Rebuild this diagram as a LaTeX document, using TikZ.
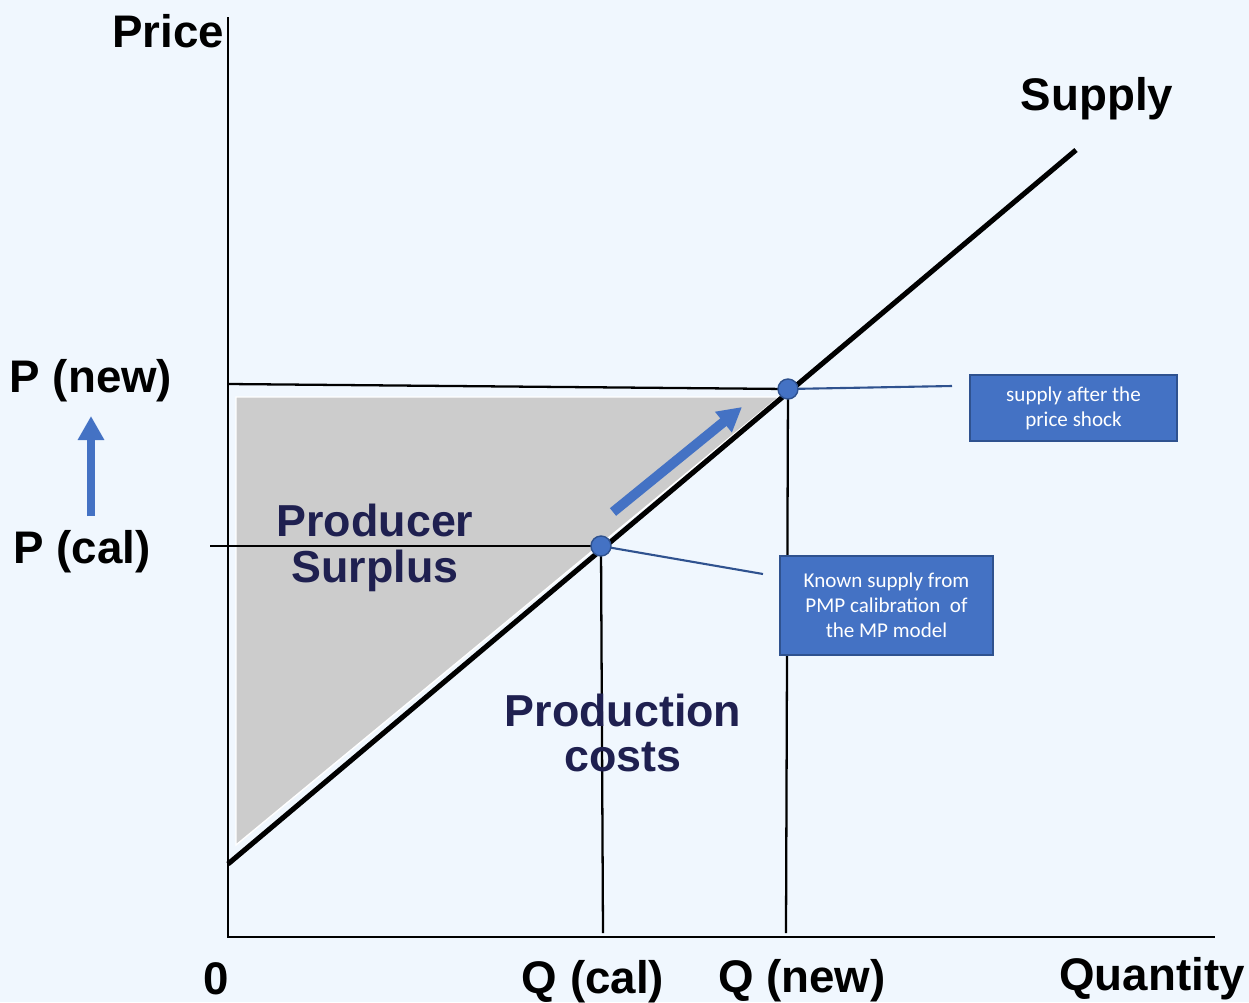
\documentclass[tikz,border=0pt]{standalone}
\usepackage{fontspec}
\setmainfont{Liberation Sans}
\newfontfamily\boxfont{Carlito}
\usetikzlibrary{arrows.meta}
\definecolor{bgBlue}{HTML}{F0F7FE}
\definecolor{shockBlue}{HTML}{4472C4}
\definecolor{edgeBlue}{HTML}{2F528F}
\definecolor{areaNavy}{HTML}{1F2050}
\definecolor{surplusGray}{HTML}{CCCCCC}
\begin{document}
\begin{tikzpicture}
[x=0.02cm,y=-0.02cm,
  axisDecorate/.style={line width=1.4pt},
  guideDecorate/.style={line width=1.3pt},
  curveDecorate/.style={line width=2.9pt},
  pointDecorate/.style={shape=circle,inner sep=0pt,minimum size=0.4cm,fill=shockBlue,draw=edgeBlue,line width=0.8pt},
  calloutDecorate/.style={draw=edgeBlue,line width=1.2pt},
  boxDecorate/.style={fill=shockBlue,draw=edgeBlue,line width=1.1pt,text=white,align=center,inner sep=0pt,
    font=\boxfont\fontsize{12}{14.2}\selectfont},
  labelDecorate/.style={font=\bfseries\fontsize{26}{28}\selectfont,yshift=-0.07cm},
  areaDecorate/.style={font=\bfseries\fontsize{25.5}{26}\selectfont,text=areaNavy,align=center},
  shiftDecorate/.style={draw=shockBlue,-{Triangle[width=0.5cm,length=0.48cm]}}]
%% background and frame
\fill[bgBlue] (0,0) rectangle (1249,1002);
\useasboundingbox (0,0) rectangle (1249,1002);
%% producer surplus area
\filldraw[fill=surplusGray,draw=white,line width=0.8pt] (236,397) -- (779,397) -- (236,845) -- cycle;
%% axes
\coordinate (O) at (228,937);
\coordinate (yTop) at (228,17);
\coordinate (xEnd) at (1215,937);
\draw[axisDecorate] (yTop) -- (O) -- (xEnd);
%% points on the supply curve (drawn on top later)
\coordinate (calPt) at (601,546);
\coordinate (newPt) at (788,389);
\coordinate (sStart) at (228,864);
\coordinate (sEnd) at (1076,150);
%% price and quantity guides
\coordinate (pNewAxis) at (228,384);
\coordinate (pCalAxis) at (210,546);
\coordinate (qCalAxis) at (603,933);
\coordinate (qNewAxis) at (786,933);
\draw[guideDecorate] (pNewAxis) -- (newPt);
\draw[guideDecorate] (pCalAxis) -- (calPt);
\draw[guideDecorate] (calPt) -- (qCalAxis);
\draw[guideDecorate] (newPt) -- (qNewAxis);
%% supply curve
\draw[curveDecorate] (sStart) -- (sEnd);
%% callouts
\coordinate (newTip) at (952,386);
\coordinate (calTip) at (763,574);
\draw[calloutDecorate] (newPt) -- (newTip);
\draw[calloutDecorate] (calPt) -- (calTip);
\node (new) at (newPt) [pointDecorate] {};
\node (cal) at (calPt) [pointDecorate] {};
%% shift arrows
\coordinate (upFrom) at (91,516);
\coordinate (upTo) at (91,416);
\coordinate (moveFrom) at (613,512);
\coordinate (moveTo) at (742,407);
\draw[shiftDecorate,line width=4pt] (upFrom) -- (upTo);
\draw[shiftDecorate,line width=5.6pt] (moveFrom) -- (moveTo);
%% axis labels
\foreach \nodename/\x/\y/\txt in {
  price/168/28/Price, supply/1097/95/Supply,
  pNew/91/377/P (new), pCal/82/548/P (cal),
  zero/216/975/0, qCal/593/978/Q (cal),
  qNew/802/977/Q (new), quantity/1152/975/Quantity}
{
  \node (\nodename) at (\x,\y) [labelDecorate] {\txt};
}
%% areas
\node (surplus) at (375,548) [areaDecorate] {Producer\\Surplus};
\node (costs) at (623,733) [areaDecorate] {Production\\costs};
%% notes
\node (shockBox) at (1073.5,408) [boxDecorate,minimum width=4.14cm,minimum height=1.32cm] {supply after the\\price shock};
\node (calBox) at (886.5,605.5) [boxDecorate,minimum width=4.26cm,minimum height=1.98cm] {Known supply from\\PMP calibration~ of\\the MP model};
\end{tikzpicture}
\end{document}
